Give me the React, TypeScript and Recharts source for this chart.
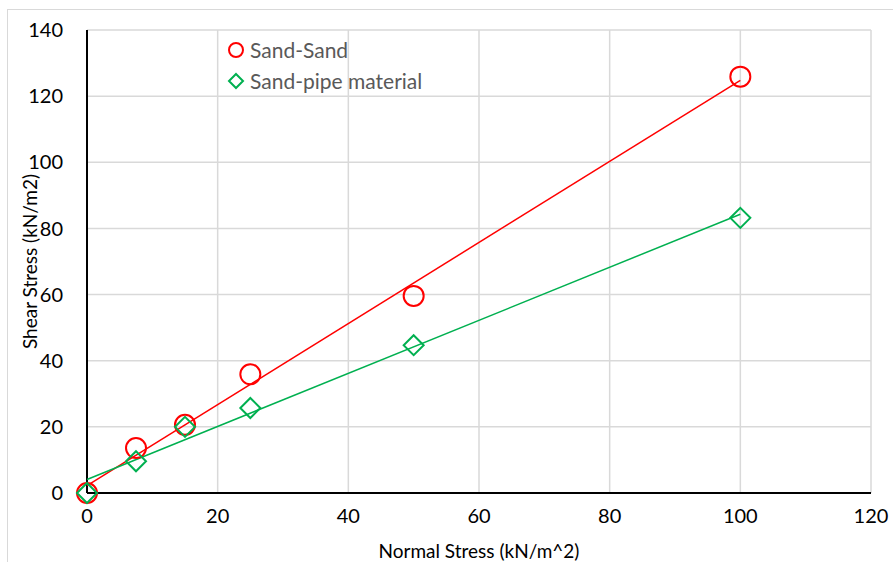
import React from "react";
import {
  ScatterChart,
  Scatter,
  XAxis,
  YAxis,
  CartesianGrid,
} from "recharts";

// measured points: normal stress vs shear stress
const normalStress = [0, 7.5, 15, 25, 50, 100];
const sandSand = [0, 13.6, 20.6, 35.9, 59.6, 125.9];
const sandPipe = [0, 9.6, 20, 25.7, 44.7, 83.2];

// linear trendline end points
const trendX = [0, 100];
const sandSandTrend = [2.2, 124.8];
const sandPipeTrend = [4.1, 84.3];

const xTicks = [0, 20, 40, 60, 80, 100, 120];
const yTicks = [0, 20, 40, 60, 80, 100, 120, 140];

const RED = "#ff0000";
const GREEN = "#00b050";
const FONT = "Lato, 'Open Sans', sans-serif";

const toPoints = (xs: number[], ys: number[]) =>
  xs.map((x, i) => ({ x, y: ys[i] }));

const CircleMark = ({ cx, cy }: any) => (
  <circle cx={cx} cy={cy} r={10} fill="none" stroke={RED} strokeWidth={2} />
);

const DiamondMark = ({ cx, cy }: any) => (
  <path
    d={`M${cx},${cy - 10} L${cx + 10},${cy} L${cx},${cy + 10} L${cx - 10},${cy} Z`}
    fill="none"
    stroke={GREEN}
    strokeWidth={2}
  />
);

const NoMark = () => <g />;

const LegendBox = () => (
  <div
    style={{
      position: "absolute",
      left: 226,
      top: 34,
      fontFamily: FONT,
      fontSize: 21,
      color: "#595959",
      lineHeight: "31px",
    }}
  >
    <div style={{ display: "flex", alignItems: "center" }}>
      <svg width={20} height={20} style={{ marginRight: 4 }}>
        <circle cx={10} cy={10} r={7} fill="none" stroke={RED} strokeWidth={2} />
      </svg>
      Sand-Sand
    </div>
    <div style={{ display: "flex", alignItems: "center" }}>
      <svg width={20} height={20} style={{ marginRight: 4 }}>
        <path d="M10,3 L17,10 L10,17 L3,10 Z" fill="none" stroke={GREEN} strokeWidth={2} />
      </svg>
      Sand-pipe material
    </div>
  </div>
);

const App: React.FC = () => {
  return (
    <div
      style={{
        position: "absolute",
        left: 0,
        top: 0,
        width: 893,
        height: 562,
        background: "#fff",
        overflow: "hidden",
      }}
    >
      <div
        style={{
          position: "absolute",
          left: 7,
          top: 9,
          width: 900,
          height: 600,
          border: "1px solid #d9d9d9",
        }}
      />
      <ScatterChart
        width={893}
        height={562}
        margin={{ top: 30, right: 22, bottom: 0, left: 27 }}
        style={{ fontFamily: FONT }}
      >
        <CartesianGrid stroke="#d9d9d9" strokeWidth={1.5} />
        <XAxis
          type="number"
          dataKey="x"
          domain={[0, 120]}
          ticks={xTicks}
          tickLine={false}
          axisLine={{ stroke: "#000", strokeWidth: 2 }}
          tick={{ fill: "#000", fontSize: 20 }}
          tickMargin={10}
          height={69}
          label={{
            value: "Normal Stress (kN/m^2)",
            position: "insideBottom",
            offset: 4,
            fill: "#000",
            fontSize: 19,
          }}
        />
        <YAxis
          type="number"
          dataKey="y"
          domain={[0, 140]}
          ticks={yTicks}
          tickLine={false}
          axisLine={{ stroke: "#000", strokeWidth: 2 }}
          tick={{ fill: "#000", fontSize: 20 }}
          tickMargin={18}
          width={60}
          label={{
            value: "Shear Stress (kN/m2)",
            angle: -90,
            position: "insideLeft",
            offset: 3,
            style: { textAnchor: "middle" },
            fill: "#000",
            fontSize: 19,
          }}
        />
        <Scatter
          name="Sand-Sand trend"
          data={toPoints(trendX, sandSandTrend)}
          line={{ stroke: RED, strokeWidth: 1.5 }}
          shape={<NoMark />}
          legendType="none"
          isAnimationActive={false}
        />
        <Scatter
          name="Sand-pipe trend"
          data={toPoints(trendX, sandPipeTrend)}
          line={{ stroke: GREEN, strokeWidth: 1.5 }}
          shape={<NoMark />}
          legendType="none"
          isAnimationActive={false}
        />
        <Scatter
          name="Sand-Sand"
          data={toPoints(normalStress, sandSand)}
          shape={<CircleMark />}
          isAnimationActive={false}
        />
        <Scatter
          name="Sand-pipe material"
          data={toPoints(normalStress, sandPipe)}
          shape={<DiamondMark />}
          isAnimationActive={false}
        />
      </ScatterChart>
      <LegendBox />
    </div>
  );
};

export default App;
